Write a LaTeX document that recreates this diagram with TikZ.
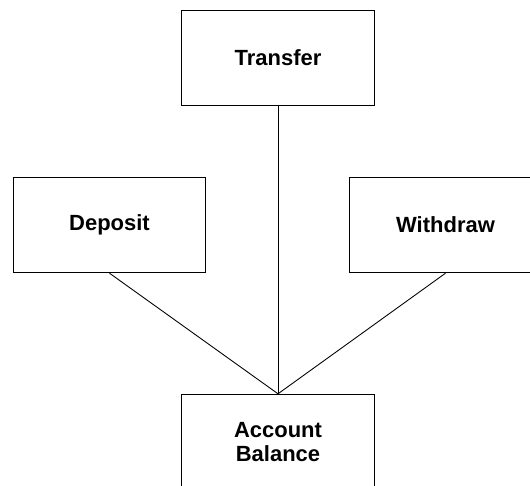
\documentclass[tikz,border=0pt]{standalone}
\usepackage{fontspec}
\setmainfont{Liberation Sans}
\usetikzlibrary{positioning}
\tikzset{
	opbox/.style={draw, line width=0.8pt, inner sep=0pt, align=center,
		minimum width=3.85cm, minimum height=1.9cm,
		font=\bfseries\fontsize{12.5}{13.5}\selectfont},
	link/.style={line width=0.5pt}
}

\begin{document}
\begin{tikzpicture}
		%%%%% START %%%%%
		
		\useasboundingbox (0, 0) rectangle (10.6, 9.7);
		\clip (0, 0) rectangle (10.6, 9.7);
		
		\node[opbox] (transfer) at (5.56, 8.54) {Transfer};
		\node[opbox] (deposit) at (2.19, 5.20) {Deposit};
		\node[opbox] (withdraw) at (8.91, 5.20) {Withdraw};
		\node[opbox] (balance) at (5.56, 0.86) {Account\\Balance};
		
		\draw[link] (transfer.south) -- (balance.north);
		\draw[link] (deposit.south) -- (balance.north);
		\draw[link] (withdraw.south) -- (balance.north);
		
		%%%%% END %%%%%
	\end{tikzpicture}
\end{document}
